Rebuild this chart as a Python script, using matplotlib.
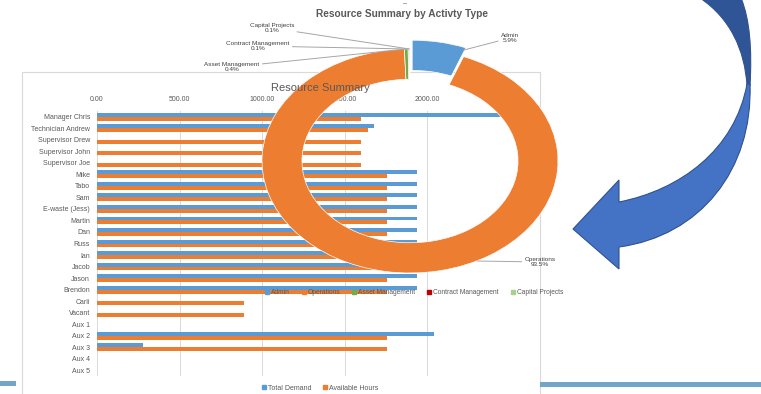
import numpy as np
import matplotlib
matplotlib.use("Agg")
import matplotlib.pyplot as plt
from matplotlib.patches import Rectangle, PathPatch
from matplotlib.path import Path
from matplotlib.lines import Line2D

plt.rcParams['font.family'] = ['Liberation Sans', 'DejaVu Sans']

# ---------------- data ----------------
categories = ["Manager Chris", "Technician Andrew", "Supervisor Drew", "Supervisor John",
              "Supervisor Joe", "Mike", "Tabo", "Sam", "E-waste (Jess)", "Martin", "Dan",
              "Russ", "Ian", "Jacob", "Jason", "Brendon", "Carli", "Vacant",
              "Aux 1", "Aux 2", "Aux 3", "Aux 4", "Aux 5"]
total_demand = [2460, 1680, 0, 0, 0, 1940, 1940, 1940, 1940, 1940, 1940,
                1940, 1940, 1940, 1940, 1940, 0, 0, 0, 2040, 280, 0, 0]
available_hours = [1600, 1640, 1600, 1600, 1600, 1760, 1760, 1760, 1760, 1760, 1760,
                   1760, 1760, 1760, 1760, 1760, 890, 890, 0, 1760, 1760, 0, 0]
bar_series = ["Total Demand", "Available Hours"]
x_ticks = [0, 500, 1000, 1500, 2000, 2500]

activities = ["Admin", "Operations", "Asset Management", "Contract Management", "Capital Projects"]
activity_share = [5.9, 93.5, 0.4, 0.1, 0.1]

# ---------------- styles ----------------
W, H = 761, 394
BLUE = "#5B9BD5"
ORANGE = "#ED7D31"
act_colors = [BLUE, ORANGE, "#70AD47", "#C00000", "#A9D18E"]
TXT = "#595959"
FS = 5.0

fig = plt.figure(figsize=(W / 100, H / 100), dpi=100)
fig.patch.set_facecolor("white")

def fx(px):
    return px / W

def fy(py):
    return 1 - py / H

# background (slide + chart panel)
bg = fig.add_axes([0, 0, 1, 1])
bg.set_xlim(0, W)
bg.set_ylim(H, 0)
bg.axis("off")
bg.add_patch(Rectangle((22, 72), 518, 330, facecolor="white", edgecolor="#D9D9D9", lw=0.8))
bg.add_patch(Rectangle((0, 381), 16, 5, facecolor="#72A6C8", edgecolor="none"))
bg.add_patch(Rectangle((540, 382), 221, 5, facecolor="#72A6C8", edgecolor="none"))

# ---------------- bar chart ----------------
ax = fig.add_axes([fx(97), fy(376), fx(412.5), (376 - 111) / H])
y = np.arange(len(categories))
h = 0.34
ax.barh(y - 0.17, total_demand, height=h, color=BLUE, label=bar_series[0], zorder=2)
ax.barh(y + 0.17, available_hours, height=h, color=ORANGE, label=bar_series[1], zorder=2)
ax.set_xlim(0, 2500)
ax.set_ylim(len(categories) - 0.5, -0.5)
ax.set_yticks(y)
ax.set_yticklabels(categories, fontsize=FS, color=TXT)
ax.set_xticks(x_ticks)
ax.set_xticklabels([f"{v:.2f}" for v in x_ticks], fontsize=FS, color=TXT)
ax.xaxis.tick_top()
ax.tick_params(axis="both", length=0, pad=5)
ax.tick_params(axis="x", pad=6)
ax.grid(axis="x", color="#D9D9D9", lw=0.7, zorder=0)
for s in ax.spines.values():
    s.set_visible(False)
ax.set_facecolor("none")

fig.text(fx(320), fy(88), "Resource Summary", fontsize=8, color=TXT, ha="center", va="center")
fig.legend([Line2D([], [], marker="s", ls="none", color=c, markersize=2.4) for c in [BLUE, ORANGE]],
           bar_series, loc="center", bbox_to_anchor=(fx(320), fy(388)), ncol=2, frameon=False,
           fontsize=FS, handlelength=0.6, handletextpad=0.3, columnspacing=1.6, labelcolor=TXT)

# ---------------- donut chart ----------------
cx, cy, rx, ry = 410, 161, 148, 112
pa = fig.add_axes([fx(cx - 1.25 * rx), fy(cy + 1.25 * ry), fx(2.5 * rx), 2.5 * ry / H])
explode = [0.08, 0, 0, 0, 0]
pa.pie(activity_share, colors=act_colors, startangle=90, counterclock=False, explode=explode,
       wedgeprops=dict(width=0.27, edgecolor="white", linewidth=0.5))
pa.set_aspect("auto")
pa.set_xlim(-1.25, 1.25)
pa.set_ylim(-1.25, 1.25)
pa.patch.set_visible(False)

def d(px, py):
    return ((px - cx) / rx, (cy - py) / ry)

cum = np.cumsum([0] + activity_share[:-1])
mids = 90 - 360 * (cum + np.array(activity_share) / 2) / 100
label_pos = {
    "Admin": d(510, 38),
    "Operations": d(540, 262),
    "Asset Management": d(232, 67),
    "Contract Management": d(258, 46),
    "Capital Projects": d(272, 28),
}
anchors = {
    "Admin": d(464, 50),
    "Operations": d(477, 261),
}
for i, name in enumerate(activities):
    if name in anchors:
        xy = anchors[name]
    else:
        a = np.deg2rad(mids[i])
        xy = (np.cos(a), np.sin(a))
    pa.annotate(f"{name}\n{activity_share[i]:.1f}%", xy=xy, xytext=label_pos[name],
                fontsize=4.6, color="#404040", ha="center", va="center", linespacing=1.15,
                arrowprops=dict(arrowstyle="-", color="#A6A6A6", lw=0.7, shrinkA=0, shrinkB=0),
                annotation_clip=False)

fig.text(fx(402), fy(14), "Resource Summary by Activty Type", fontsize=7.3, color=TXT,
         ha="center", va="center", fontweight="bold")
fig.text(fx(405), fy(4), "–", fontsize=5, color=TXT, ha="center", va="center")
fig.legend([Line2D([], [], marker="s", ls="none", color=c, markersize=2.4) for c in act_colors],
           activities, loc="center", bbox_to_anchor=(fx(414), fy(293)), ncol=5, frameon=False,
           fontsize=4.8, handlelength=0.6, handletextpad=0.3, columnspacing=1.8, labelcolor=TXT)

# ---------------- curved arrow (decoration) ----------------
ov = fig.add_axes([0, 0, 1, 1])
ov.set_xlim(0, W)
ov.set_ylim(H, 0)
ov.axis("off")
ov.patch.set_visible(False)

C4 = Path.CURVE4
dark = Path([(700, -2), (730, 18), (745, 50), (747, 86),
             (750, 86), (752, 50), (750, 20), (741, -2), (700, -2)],
            [Path.MOVETO, C4, C4, C4, Path.LINETO, C4, C4, C4, Path.CLOSEPOLY])
ov.add_patch(PathPatch(dark, facecolor="#2F5597", edgecolor="#2F528F", lw=0.8))

light = Path([(747, 84), (750, 84),
              (753, 170), (700, 236), (619, 247),
              (619, 269), (573, 229), (619, 180), (619, 202),
              (680, 190), (735, 150), (747, 84), (747, 84)],
             [Path.MOVETO, Path.LINETO, C4, C4, C4,
              Path.LINETO, Path.LINETO, Path.LINETO, Path.LINETO,
              C4, C4, C4, Path.CLOSEPOLY])
ov.add_patch(PathPatch(light, facecolor="#4472C4", edgecolor="#2F528F", lw=0.8))

fig.savefig("out.png", dpi=100, facecolor="white")
